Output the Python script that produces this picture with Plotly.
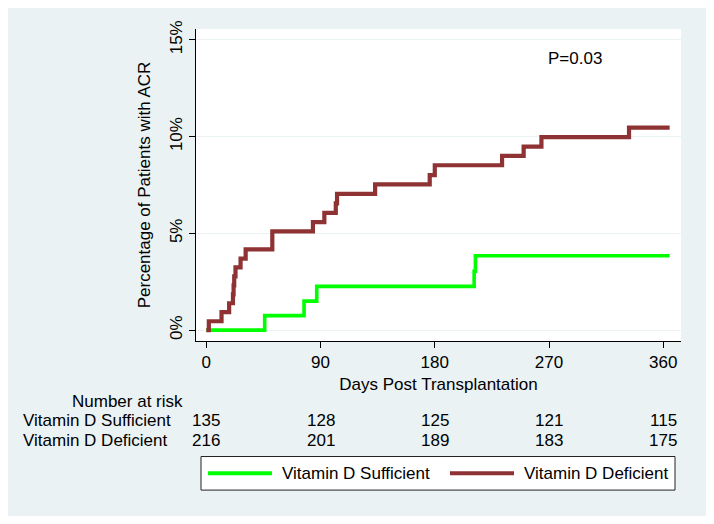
import plotly.graph_objects as go

# ---- data ----
days_suf = [0, 46, 77, 87, 211, 212, 365]
pct_suf = [0, 0.75, 1.50, 2.26, 3.04, 3.84, 3.84]

days_def = [0, 2, 12, 18, 21, 21.5, 22, 23, 27, 31, 52, 84, 93, 102, 103, 133, 176, 180, 233, 250, 264, 333, 365]
pct_def = [0, 0.46, 0.93, 1.39, 1.85, 2.31, 2.78, 3.24, 3.70, 4.17, 5.10, 5.58, 6.06, 6.55, 7.04, 7.53, 8.01, 8.52, 9.00, 9.48, 9.97, 10.46, 10.46]

x_ticks = [0, 90, 180, 270, 360]
y_ticks = [0, 5, 10, 15]
y_tick_text = ["0%", "5%", "10%", "15%"]

group_names = ["Vitamin D Sufficient", "Vitamin D Deficient"]
risk_suf = [135, 128, 125, 121, 115]
risk_def = [216, 201, 189, 183, 175]

p_text = "P=0.03"

GREEN = "#00FF00"
MAROON = "#8E3234"
BG = "#EAF2F3"
FONT = "Liberation Sans, Arial, sans-serif"
FS = 17

# figure sits inside the page's 8px body margin
W, H = 698, 508
OFF = 8
# plot area in screenshot pixels
L, R, T, B = 196, 681, 25, 341


def px(xp):
    return (xp - L) / (R - L)


def py(yp):
    return (B - yp) / (B - T)


fig = go.Figure()
fig.add_trace(go.Scatter(x=days_suf, y=pct_suf, mode="lines", line=dict(color=GREEN, width=3.6, shape="hv"),
                         name=group_names[0], showlegend=False, hoverinfo="skip"))
fig.add_trace(go.Scatter(x=days_def, y=pct_def, mode="lines", line=dict(color=MAROON, width=4.2, shape="hv"),
                         name=group_names[1], showlegend=False, hoverinfo="skip"))

annotations = []
# P value
annotations.append(dict(x=290.5, y=14.03, xref="x", yref="y", text=p_text, showarrow=False,
                        font=dict(size=FS, color="black", family=FONT)))
# number at risk table
annotations.append(dict(x=px(184), y=py(402), xref="paper", yref="paper", text="Number at risk",
                        showarrow=False, xanchor="right", yanchor="middle", borderpad=0,
                        font=dict(size=FS, color="black", family=FONT)))
for name, row, yy in [(group_names[0], risk_suf, 422), (group_names[1], risk_def, 442)]:
    annotations.append(dict(x=px(22), y=py(yy), xref="paper", yref="paper", text=name,
                            showarrow=False, xanchor="left", yanchor="middle", borderpad=0,
                            font=dict(size=FS, color="black", family=FONT)))
    for xv, n in zip(x_ticks, row):
        annotations.append(dict(x=xv, y=py(yy), xref="x", yref="paper", text=str(n),
                                showarrow=False, xanchor="center", yanchor="middle", borderpad=0,
                                font=dict(size=FS, color="black", family=FONT)))

# legend (custom, Stata style)
leg_y = 475
annotations.append(dict(x=px(280), y=py(leg_y), xref="paper", yref="paper", text=group_names[0],
                        showarrow=False, xanchor="left", yanchor="middle",
                        font=dict(size=FS, color="black", family=FONT)))
annotations.append(dict(x=px(522), y=py(leg_y), xref="paper", yref="paper", text=group_names[1],
                        showarrow=False, xanchor="left", yanchor="middle",
                        font=dict(size=FS, color="black", family=FONT)))

shapes = [
    dict(type="rect", xref="paper", yref="paper", x0=px(201), x1=px(675), y0=py(492), y1=py(458),
         fillcolor="white", line=dict(color="#222222", width=1), layer="above"),
    dict(type="line", xref="paper", yref="paper", x0=px(208), x1=px(272), y0=py(leg_y), y1=py(leg_y),
         line=dict(color=GREEN, width=4), layer="above"),
    dict(type="line", xref="paper", yref="paper", x0=px(450), x1=px(514), y0=py(leg_y), y1=py(leg_y),
         line=dict(color=MAROON, width=4), layer="above"),
]

fig.update_layout(
    width=W, height=H,
    margin=dict(l=L - OFF, r=W - (R - OFF), t=T - OFF, b=H - (B - OFF), pad=0),
    paper_bgcolor=BG, plot_bgcolor="white",
    font=dict(family=FONT, size=FS, color="black"),
    showlegend=False,
    annotations=annotations,
    shapes=shapes,
    xaxis=dict(range=[-8.11, 373.95], tickvals=x_ticks, ticks="outside", ticklen=6, tickcolor="black",
               showline=True, linecolor="black", linewidth=1, showgrid=False, zeroline=False,
               title=dict(text="Days Post Transplantation", standoff=6, font=dict(size=FS)),
               tickfont=dict(size=FS)),
    yaxis=dict(range=[-0.561, 15.56], tickvals=y_ticks, ticktext=y_tick_text, ticks="outside", ticklen=6,
               tickcolor="black", tickangle=-90, showline=True, linecolor="black", linewidth=1,
               showgrid=True, gridcolor=BG, gridwidth=1, zeroline=False,
               title=dict(text="Percentage of Patients with ACR", standoff=12, font=dict(size=FS)),
               tickfont=dict(size=FS)),
)

fig.write_html("out.html")
